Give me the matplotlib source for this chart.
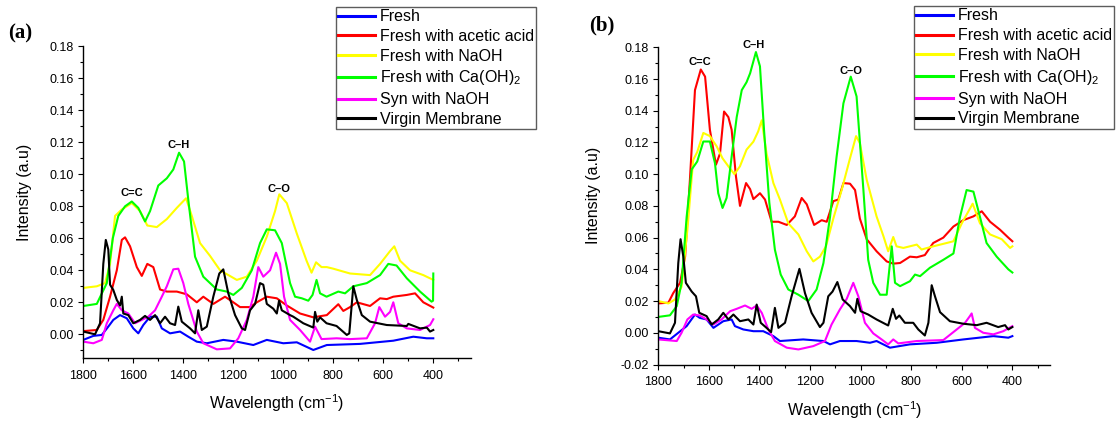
import matplotlib
matplotlib.use("Agg")
import matplotlib.pyplot as plt
from matplotlib.ticker import MultipleLocator, FormatStrFormatter

plt.rcParams['font.family'] = ['Liberation Sans', 'DejaVu Sans']
plt.rcParams['mathtext.fontset'] = 'custom'
plt.rcParams['mathtext.rm'] = 'Liberation Sans'
plt.rcParams['mathtext.it'] = 'Liberation Sans:italic'
plt.rcParams['axes.unicode_minus'] = False

LABELS = ['Fresh', 'Fresh with acetic acid', 'Fresh with NaOH',
          'Fresh with Ca(OH)$_2$', 'Syn with NaOH', 'Virgin Membrane']
COLORS = ['#0000ff', '#ff0000', '#ffff00', '#00ff00', '#ff00ff', '#000000']

# panel (a): (wavenumber, intensity)
a_fresh = [(1800, -0.0035), (1760, -0.001), (1726, -0.0004), (1700, 0.0048), (1680, 0.009),
           (1653, 0.012), (1626, 0.010), (1600, 0.0037), (1580, 0.0006), (1560, 0.0058),
           (1533, 0.011), (1506, 0.011), (1486, 0.0037), (1453, 0.0006), (1413, 0.0017),
           (1380, -0.0015), (1346, -0.0046), (1306, -0.0056), (1240, -0.0035), (1186, -0.0046),
           (1120, -0.0067), (1066, -0.0035), (1000, -0.0056), (946, -0.005), (880, -0.0098),
           (826, -0.0067), (693, -0.006), (560, -0.004), (480, -0.0015), (426, -0.0025), (400, -0.0025)]
a_acetic = [(1800, 0.002), (1746, 0.0027), (1720, 0.009), (1693, 0.0235), (1666, 0.040),
            (1646, 0.059), (1633, 0.0606), (1613, 0.055), (1586, 0.042), (1566, 0.0365),
            (1544, 0.044), (1520, 0.042), (1493, 0.028), (1466, 0.0267), (1426, 0.0267),
            (1386, 0.025), (1346, 0.020), (1320, 0.0235), (1280, 0.019), (1233, 0.0235),
            (1200, 0.020), (1173, 0.017), (1133, 0.017), (1106, 0.020), (1066, 0.0235),
            (1026, 0.0225), (986, 0.018), (933, 0.013), (880, 0.0106), (826, 0.012),
            (780, 0.0188), (760, 0.0146), (733, 0.017), (706, 0.020), (653, 0.0177),
            (613, 0.0225), (586, 0.022), (560, 0.0235), (506, 0.0246), (473, 0.0256),
            (440, 0.020), (400, 0.0167)]
a_naoh = [(1800, 0.029), (1746, 0.030), (1713, 0.032), (1693, 0.044), (1673, 0.074),
          (1646, 0.078), (1606, 0.082), (1573, 0.077), (1544, 0.068), (1506, 0.067),
          (1466, 0.072), (1426, 0.079), (1389, 0.085), (1366, 0.074), (1333, 0.057),
          (1293, 0.049), (1253, 0.040), (1186, 0.034), (1146, 0.036), (1106, 0.046),
          (1066, 0.061), (1033, 0.077), (1016, 0.0875), (986, 0.082), (946, 0.063),
          (907, 0.046), (887, 0.0385), (869, 0.045), (847, 0.042), (826, 0.042),
          (800, 0.041), (733, 0.038), (653, 0.037), (613, 0.044), (573, 0.052),
          (556, 0.055), (533, 0.046), (493, 0.040), (440, 0.037), (400, 0.034)]
a_caoh = [(1800, 0.0177), (1746, 0.019), (1706, 0.032), (1682, 0.060), (1660, 0.074),
          (1633, 0.080), (1606, 0.083), (1580, 0.079), (1553, 0.0705), (1533, 0.077),
          (1500, 0.093), (1466, 0.0975), (1440, 0.103), (1417, 0.1135), (1397, 0.108),
          (1380, 0.084), (1353, 0.0485), (1320, 0.036), (1266, 0.028), (1226, 0.0267),
          (1200, 0.0246), (1166, 0.029), (1126, 0.040), (1093, 0.057), (1066, 0.0656),
          (1033, 0.065), (1006, 0.057), (973, 0.032), (953, 0.0235), (926, 0.0225),
          (900, 0.021), (883, 0.0246), (867, 0.034), (853, 0.0256), (827, 0.0235),
          (780, 0.0267), (753, 0.0256), (720, 0.030), (666, 0.032), (613, 0.037),
          (580, 0.044), (547, 0.043), (506, 0.035), (453, 0.0267), (407, 0.0204),
          (401, 0.021), (400, 0.038)]
a_syn = [(1800, -0.0046), (1760, -0.0056), (1726, -0.0035), (1706, 0.0069), (1680, 0.015),
         (1666, 0.019), (1646, 0.015), (1620, 0.013), (1593, 0.0069), (1566, 0.009),
         (1540, 0.011), (1513, 0.015), (1486, 0.0235), (1466, 0.030), (1440, 0.0406),
         (1420, 0.041), (1400, 0.032), (1380, 0.019), (1346, 0.0017), (1320, -0.0056),
         (1266, -0.0094), (1213, -0.0088), (1180, -0.0025), (1146, 0.009), (1120, 0.0235),
         (1100, 0.042), (1080, 0.036), (1053, 0.040), (1029, 0.051), (1013, 0.044),
         (997, 0.0235), (973, 0.009), (933, 0.0027), (893, -0.0046), (873, 0.0048),
         (847, -0.003), (787, -0.0025), (733, -0.003), (666, -0.0025), (633, 0.0069),
         (616, 0.017), (593, 0.011), (573, 0.014), (560, 0.020), (540, 0.0069),
         (506, 0.0037), (453, 0.0027), (413, 0.0058), (400, 0.0094)]
a_virgin = [(1800, 0.0017), (1753, 0.0), (1733, 0.0069), (1720, 0.044), (1710, 0.059),
            (1700, 0.053), (1693, 0.031), (1680, 0.0277), (1666, 0.0215), (1653, 0.018),
            (1646, 0.0235), (1640, 0.013), (1620, 0.012), (1600, 0.0069), (1573, 0.009),
            (1553, 0.0115), (1533, 0.009), (1513, 0.012), (1493, 0.0069), (1473, 0.011),
            (1453, 0.0069), (1433, 0.0058), (1420, 0.0173), (1406, 0.0079), (1373, 0.0037),
            (1353, 0.0006), (1340, 0.015), (1326, 0.0027), (1306, 0.0048), (1280, 0.0235),
            (1256, 0.038), (1240, 0.0406), (1220, 0.0256), (1193, 0.012), (1166, 0.0037),
            (1153, 0.0027), (1133, 0.015), (1113, 0.019), (1093, 0.032), (1080, 0.031),
            (1066, 0.019), (1040, 0.016), (1026, 0.013), (1017, 0.021), (1006, 0.015),
            (973, 0.012), (960, 0.011), (920, 0.0069), (880, 0.0042), (873, 0.014),
            (864, 0.0079), (853, 0.0106), (827, 0.0069), (787, 0.0052), (746, -0.0004),
            (736, 0.0006), (720, 0.030), (706, 0.0215), (686, 0.012), (653, 0.0079),
            (586, 0.0058), (506, 0.0052), (500, 0.0065), (453, 0.0037), (426, 0.0042),
            (413, 0.0017), (400, 0.0027)]

# panel (b)
b_fresh = [(1800, -0.0031), (1754, -0.0042), (1721, 0.0), (1688, 0.0042), (1655, 0.0115),
           (1636, 0.0094), (1609, 0.0084), (1582, 0.0031), (1543, 0.0073), (1510, 0.0084),
           (1497, 0.0042), (1464, 0.0021), (1424, 0.001), (1385, 0.001), (1345, -0.0021),
           (1319, -0.0052), (1227, -0.0042), (1147, -0.0052), (1121, -0.0073), (1082, -0.0052),
           (1016, -0.0052), (963, -0.0063), (937, -0.0052), (884, -0.0094), (805, -0.0073),
           (699, -0.0063), (594, -0.0042), (475, -0.0021), (416, -0.0031), (400, -0.0021)]
b_acetic = [(1800, 0.0185), (1760, 0.019), (1741, 0.025), (1714, 0.0315), (1694, 0.048),
            (1675, 0.0965), (1655, 0.153), (1632, 0.166), (1615, 0.1615), (1596, 0.128),
            (1572, 0.106), (1556, 0.113), (1540, 0.1395), (1523, 0.136), (1510, 0.128),
            (1493, 0.0986), (1477, 0.080), (1453, 0.0944), (1437, 0.0906), (1424, 0.0843),
            (1398, 0.088), (1378, 0.084), (1352, 0.070), (1325, 0.070), (1292, 0.068),
            (1260, 0.0734), (1233, 0.085), (1213, 0.081), (1184, 0.068), (1154, 0.071),
            (1134, 0.070), (1108, 0.083), (1088, 0.084), (1068, 0.0944), (1042, 0.094),
            (1022, 0.090), (1003, 0.072), (976, 0.059), (937, 0.0514), (897, 0.045),
            (871, 0.0436), (844, 0.044), (805, 0.048), (778, 0.0476), (746, 0.049),
            (713, 0.0566), (673, 0.060), (633, 0.067), (594, 0.071), (554, 0.0734),
            (521, 0.0766), (488, 0.070), (449, 0.065), (416, 0.060), (400, 0.0577)]
b_naoh = [(1800, 0.020), (1760, 0.0185), (1734, 0.021), (1708, 0.029), (1685, 0.065),
          (1662, 0.109), (1646, 0.114), (1622, 0.126), (1596, 0.124), (1569, 0.1175),
          (1546, 0.110), (1523, 0.105), (1499, 0.100), (1477, 0.105), (1451, 0.1155),
          (1424, 0.1205), (1405, 0.127), (1391, 0.134), (1372, 0.113), (1345, 0.0944),
          (1319, 0.084), (1286, 0.069), (1246, 0.062), (1213, 0.0514), (1187, 0.045),
          (1161, 0.048), (1137, 0.0545), (1108, 0.072), (1075, 0.090), (1042, 0.110),
          (1018, 0.124), (1003, 0.1196), (976, 0.0965), (937, 0.0734), (910, 0.061),
          (891, 0.0514), (871, 0.0604), (858, 0.0545), (831, 0.0535), (778, 0.0556),
          (759, 0.0525), (713, 0.0545), (660, 0.0566), (633, 0.0577), (600, 0.069),
          (581, 0.0745), (557, 0.0814), (528, 0.069), (488, 0.062), (442, 0.059),
          (409, 0.0535), (400, 0.0545)]
b_caoh = [(1800, 0.010), (1754, 0.011), (1727, 0.0168), (1708, 0.0315), (1688, 0.073),
          (1668, 0.103), (1646, 0.108), (1622, 0.1206), (1596, 0.1206), (1576, 0.107),
          (1563, 0.088), (1546, 0.0787), (1530, 0.085), (1510, 0.111), (1490, 0.136),
          (1470, 0.153), (1451, 0.158), (1437, 0.1636), (1414, 0.177), (1398, 0.168),
          (1382, 0.128), (1361, 0.082), (1339, 0.0524), (1316, 0.0367), (1286, 0.0273),
          (1246, 0.024), (1207, 0.020), (1174, 0.0273), (1147, 0.044), (1121, 0.073),
          (1095, 0.111), (1068, 0.1447), (1039, 0.1615), (1016, 0.149), (989, 0.090),
          (970, 0.046), (950, 0.0315), (923, 0.024), (897, 0.024), (877, 0.0545),
          (864, 0.0315), (844, 0.0294), (805, 0.0325), (785, 0.0367), (765, 0.0357),
          (726, 0.041), (673, 0.046), (633, 0.050), (607, 0.073), (581, 0.090),
          (554, 0.089), (528, 0.073), (502, 0.0566), (462, 0.048), (416, 0.040), (400, 0.038)]
b_syn = [(1800, -0.0042), (1727, -0.0052), (1708, 0.0), (1685, 0.0084), (1662, 0.0115),
         (1636, 0.0109), (1609, 0.0084), (1582, 0.0052), (1550, 0.0084), (1516, 0.0136),
         (1490, 0.0151), (1457, 0.0172), (1431, 0.0151), (1411, 0.0172), (1391, 0.0126),
         (1365, 0.0021), (1339, -0.0052), (1292, -0.0094), (1246, -0.0105), (1187, -0.0084),
         (1141, -0.0052), (1115, 0.0052), (1082, 0.0147), (1055, 0.0214), (1029, 0.0315),
         (1009, 0.023), (983, 0.0063), (950, -0.0004), (917, -0.0042), (891, -0.0073),
         (871, -0.0042), (851, -0.0067), (778, -0.0052), (673, -0.0046), (620, 0.0021),
         (587, 0.0063), (568, 0.0105), (561, 0.0122), (548, 0.0031), (515, 0.0),
         (475, -0.001), (436, 0.001), (400, 0.0042)]
b_virgin = [(1800, 0.001), (1754, -0.0004), (1734, 0.0063), (1721, 0.044), (1712, 0.059),
            (1701, 0.048), (1691, 0.0315), (1668, 0.026), (1651, 0.023), (1638, 0.0126),
            (1609, 0.0105), (1589, 0.0052), (1563, 0.0084), (1543, 0.0126), (1523, 0.0084),
            (1503, 0.0115), (1477, 0.0073), (1444, 0.0084), (1424, 0.0052), (1411, 0.0178),
            (1395, 0.0063), (1372, 0.0031), (1354, 0.0004), (1339, 0.0157), (1325, 0.0031),
            (1299, 0.0063), (1273, 0.023), (1242, 0.0403), (1220, 0.025), (1194, 0.0126),
            (1161, 0.0036), (1147, 0.0063), (1128, 0.023), (1111, 0.026), (1092, 0.032),
            (1071, 0.021), (1042, 0.0168), (1022, 0.0126), (1013, 0.0214), (1000, 0.0136),
            (970, 0.0115), (937, 0.0084), (891, 0.0046), (873, 0.0151), (860, 0.0088),
            (847, 0.0109), (825, 0.0063), (792, 0.0063), (772, 0.0021), (746, -0.0017),
            (732, 0.0063), (719, 0.030), (706, 0.023), (686, 0.013), (647, 0.0073),
            (594, 0.0057), (541, 0.0048), (502, 0.0063), (456, 0.0036), (429, 0.0048),
            (416, 0.0021), (400, 0.0036)]

PANEL_A = [a_fresh, a_acetic, a_naoh, a_caoh, a_syn, a_virgin]
PANEL_B = [b_fresh, b_acetic, b_naoh, b_caoh, b_syn, b_virgin]

# band labels: (text, wavenumber, intensity)
BANDS_A = [('C=C', 1606, 0.0883), ('C\u2013H', 1420, 0.1183), ('C\u2013O', 1016, 0.0906)]
BANDS_B = [('C=C', 1635, 0.1705), ('C\u2013H', 1424, 0.1814), ('C\u2013O', 1038, 0.1653)]


def style_axes(ax, ymin):
    ax.set_xlim(1800, 250)
    ax.set_ylim(ymin, 0.18)
    for s in ['top', 'right']:
        ax.spines[s].set_visible(False)
    for s in ['left', 'bottom']:
        ax.spines[s].set_linewidth(1.0)
    ax.xaxis.set_major_locator(MultipleLocator(200))
    ax.xaxis.set_minor_locator(MultipleLocator(100))
    ax.yaxis.set_major_locator(MultipleLocator(0.02))
    ax.yaxis.set_minor_locator(MultipleLocator(0.01))
    ax.yaxis.set_major_formatter(FormatStrFormatter('%.2f'))
    ax.tick_params(which='major', direction='out', length=3.6, width=0.8,
                   labelsize=9, colors='black')
    ax.tick_params(which='minor', direction='out', length=2.4, width=0.8)
    ax.tick_params(axis='x', pad=5)
    ax.tick_params(axis='y', pad=3)
    ax.set_xlabel('Wavelength (cm$^{-1}$)', fontsize=11.5)
    ax.set_ylabel('Intensity (a.u)', fontsize=11.5)


def draw_panel(ax, series, bands, ymin):
    for pts, lab, col in zip(series, LABELS, COLORS):
        w = [p[0] for p in pts]
        v = [p[1] for p in pts]
        ax.plot(w, v, color=col, lw=1.5, label=lab, solid_joinstyle='round')
    for txt, w, v in bands:
        ax.text(w, v, txt, fontsize=8, fontweight='bold', ha='center', va='center')
    style_axes(ax, ymin)


fig = plt.figure(figsize=(11.2, 4.21), dpi=100)
ax1 = fig.add_axes([83.3 / 1120, (421 - 358.3) / 421, 387.5 / 1120, 312.0 / 421])
ax2 = fig.add_axes([658.3 / 1120, (421 - 364.5) / 421, 392.0 / 1120, 317.2 / 421])

draw_panel(ax1, PANEL_A, BANDS_A, -0.015)
draw_panel(ax2, PANEL_B, BANDS_B, -0.02)

ax1.xaxis.set_label_coords(0.5, (358.3 - 392) / 312.0)
ax1.yaxis.set_label_coords((32 - 83.3) / 387.5, 0.532)
ax2.xaxis.set_label_coords(0.5, (364.5 - 399) / 317.2)
ax2.yaxis.set_label_coords((601 - 658.3) / 392.0, 0.533)

for ax, xa, ya in [(ax1, 336, 6.7), (ax2, 913.6, 6.0)]:
    leg = ax.legend(loc='upper left', bbox_to_anchor=(xa / 1120, 1 - ya / 421),
                    bbox_transform=fig.transFigure, borderaxespad=0,
                    fontsize=11.5, frameon=True, fancybox=False,
                    borderpad=0.15, labelspacing=0.3, handlelength=2.3,
                    handletextpad=0.3)
    leg.get_frame().set_edgecolor('#333333')
    leg.get_frame().set_linewidth(1.0)
    for ln in leg.get_lines():
        ln.set_linewidth(2.2)

fig.text(8 / 1120, 1 - 33 / 421, '(a)', fontsize=15, fontweight='bold',
         family='Liberation Serif', va='center', ha='left')
fig.text(589 / 1120, 1 - 25 / 421, '(b)', fontsize=15, fontweight='bold',
         family='Liberation Serif', va='center', ha='left')

fig.savefig('out.png', dpi=100)
